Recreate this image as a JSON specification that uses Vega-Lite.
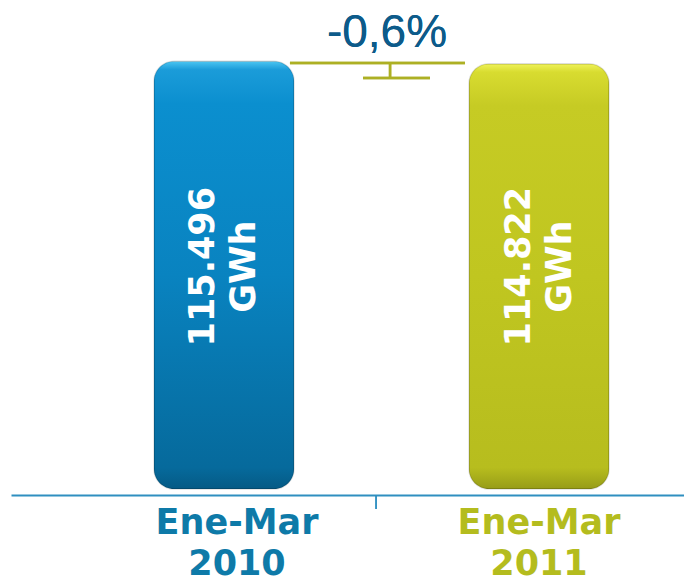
{
  "$schema": "https://vega.github.io/schema/vega-lite/v6.json",
  "autosize": "none",
  "width": 673,
  "height": 489,
  "padding": {"left": 11, "top": 0, "right": 0, "bottom": 92},
  "background": "white",
  "config": {"view": {"stroke": null}},
  "data": {"values": [
    {"periodo": "Ene-Mar 2010", "valor": 115496, "etiqueta": "115.496\nGWh"},
    {"periodo": "Ene-Mar 2011", "valor": 114822, "etiqueta": "114.822\nGWh"}
  ]},
  "encoding": {
    "x": {
      "field": "periodo", "type": "nominal", "sort": null,
      "scale": {"paddingInner": 0.5556, "paddingOuter": 0.346, "align": 0.656},
      "axis": {
        "title": null, "orient": "bottom", "offset": 6, "ticks": false,
        "domainColor": "#2f8fc0", "domainWidth": 2,
        "labelAngle": 0, "labelFont": "DejaVu Sans", "labelFontWeight": "bold",
        "labelFontSize": 35, "labelLineHeight": 41, "labelPadding": 10,
        "labelBaseline": "top",
        "labelExpr": "split(datum.label, ' ')",
        "labelOffset": {"condition": {"test": "datum.value === 'Ene-Mar 2010'", "value": 13}, "value": 0},
        "labelColor": {"condition": {"test": "datum.value === 'Ene-Mar 2010'", "value": "#0e7aa8"}, "value": "#b4bc1e"}
      }
    }
  },
  "layer": [
    {
      "mark": {"type": "bar", "cornerRadius": 20, "stroke": "#000000", "strokeOpacity": 0.12, "strokeWidth": 1.5},
      "encoding": {
        "y": {"field": "valor", "type": "quantitative", "scale": {"domain": [0, 132000], "nice": false, "zero": true}, "axis": null},
        "color": {
          "condition": {
            "test": "datum.periodo === 'Ene-Mar 2010'",
            "value": {"gradient": "linear", "x1": 0, "y1": 0, "x2": 0, "y2": 1, "stops": [
              {"offset": 0, "color": "#4cc6f2"},
              {"offset": 0.02, "color": "#1b9cd9"},
              {"offset": 0.1, "color": "#0b8fcf"},
              {"offset": 0.5, "color": "#0983c0"},
              {"offset": 0.95, "color": "#066a9c"},
              {"offset": 1, "color": "#055a85"}
            ]}
          },
          "value": {"gradient": "linear", "x1": 0, "y1": 0, "x2": 0, "y2": 1, "stops": [
            {"offset": 0, "color": "#f0f35a"},
            {"offset": 0.02, "color": "#d8dc30"},
            {"offset": 0.1, "color": "#c6cb24"},
            {"offset": 0.5, "color": "#c0c620"},
            {"offset": 0.95, "color": "#b7bd1e"},
            {"offset": 1, "color": "#979c18"}
          ]}
        }
      }
    },
    {
      "mark": {"type": "text", "angle": 270, "align": "center", "baseline": "middle", "dy": -20.5, "font": "DejaVu Sans", "fontWeight": "bold", "fontSize": 35, "lineHeight": 41, "lineBreak": "\n", "color": "white"},
      "encoding": {
        "y": {"datum": 60000, "type": "quantitative"},
        "text": {"field": "etiqueta"}
      }
    },
    {
      "mark": {"type": "rule", "color": "#adb024", "strokeWidth": 2.5},
      "encoding": {
        "x": {"datum": "Ene-Mar 2011", "bandPosition": -1.279},
        "x2": {"datum": "Ene-Mar 2011", "bandPosition": -0.029},
        "y": {"datum": 115000, "type": "quantitative"}
      }
    },
    {
      "mark": {"type": "rule", "color": "#adb024", "strokeWidth": 2.5},
      "encoding": {
        "x": {"datum": "Ene-Mar 2011", "bandPosition": -0.757},
        "x2": {"datum": "Ene-Mar 2011", "bandPosition": -0.279},
        "y": {"datum": 110950, "type": "quantitative"}
      }
    },
    {
      "mark": {"type": "rule", "color": "#adb024", "strokeWidth": 2.5},
      "encoding": {
        "x": {"datum": "Ene-Mar 2011", "bandPosition": -0.564},
        "y": {"datum": 115000, "type": "quantitative"},
        "y2": {"datum": 110950}
      }
    },
    {
      "mark": {"type": "rule", "color": "#2f8fc0", "strokeWidth": 1.5},
      "encoding": {
        "x": {"datum": "Ene-Mar 2011", "bandPosition": -0.664},
        "y": {"datum": -1620, "type": "quantitative"},
        "y2": {"datum": -5400}
      }
    },
    {
      "mark": {"type": "text", "align": "center", "baseline": "alphabetic", "font": "Liberation Sans", "fontSize": 46, "color": "#0d5b8a"},
      "encoding": {
        "x": {"datum": "Ene-Mar 2011", "bandPosition": -0.586},
        "y": {"datum": 119300, "type": "quantitative"},
        "text": {"value": "-0,6%"}
      }
    }
  ]
}
